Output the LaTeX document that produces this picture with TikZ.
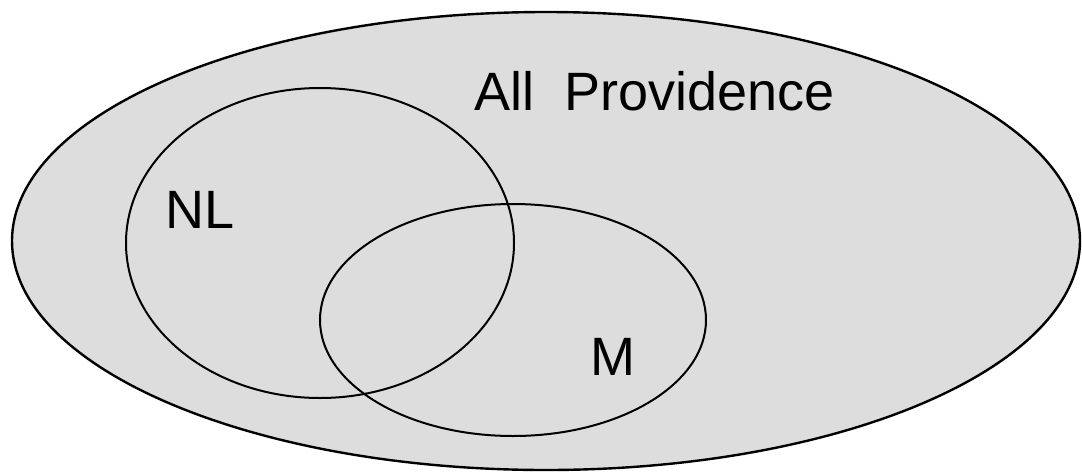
\documentclass[tikz,border=0pt]{standalone}
\usepackage{fontspec}
\setmainfont{Liberation Sans}
\usepackage{tikz}
\usetikzlibrary{positioning}
\definecolor{setgray}{RGB}{221,221,221}

\begin{document}
\begin{tikzpicture}[
  x=1pt, y=-1pt,
  setline/.style={draw=black, line width=2pt},
  label/.style={inner sep=0pt, font=\fontsize{54}{60}\selectfont}
]
\useasboundingbox (0,0) rectangle (1082,472);

% universe
\draw[setline, line width=2.4pt, fill=setgray] (546,241) ellipse [x radius=534pt, y radius=229pt];
\node[label, anchor=base west] (all) at (474,110) {All\ \ Providence};

% NL and M
\draw[setline] (320,243) ellipse [x radius=194pt, y radius=155pt];
\draw[setline] (513,320) ellipse [x radius=193pt, y radius=116pt];
\node[label, anchor=base west] (nl) at (165,228) {NL};
\node[label, anchor=base west] (m) at (590,375) {M};

\end{tikzpicture}
\end{document}
